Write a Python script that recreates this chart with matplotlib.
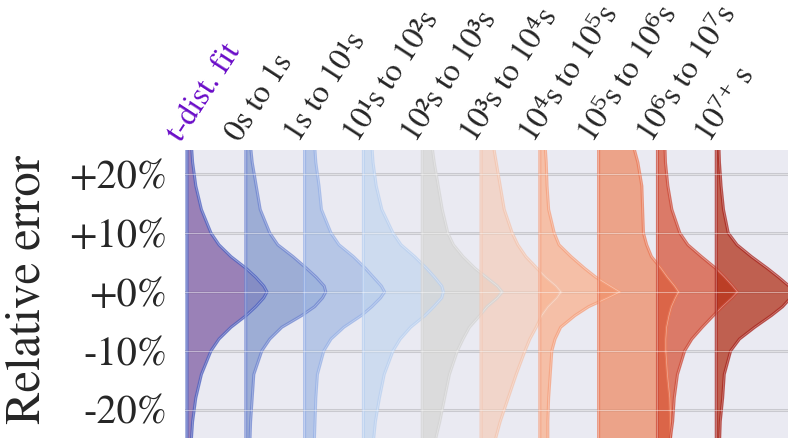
import numpy as np
import matplotlib.pyplot as plt

plt.rcParams['font.family'] = ['STIXGeneral', 'DejaVu Serif']
plt.rcParams['text.color'] = '#262626'
plt.rcParams['xtick.color'] = '#262626'
plt.rcParams['ytick.color'] = '#262626'

# Categories along the top axis (first one is the fitted reference)
labels = ['t-dist. fit', '0s to 1s', '1s to 10¹s', '10¹s to 10²s',
          '10²s to 10³s', '10³s to 10⁴s', '10⁴s to 10⁵s',
          '10⁵s to 10⁶s', '10⁶s to 10⁷s', '10⁷⁺ s']

# Relative error levels (%) where the density widths were taken
err_levels = [26, 22, 18, 14, 10, 8, 6, 4, 2.5, 1, 0,
              -1, -2.5, -4, -6, -8, -10, -14, -18, -22, -26]

# Half-violin widths, as a fraction of each violin's peak
w_tdist = [.05, .07, .11, .18, .30, .40, .55, .74, .86, .96, 1,
           .96, .86, .74, .55, .40, .30, .18, .11, .07, .05]
w_0_1 = [.05, .08, .13, .18, .30, .40, .59, .76, .88, .98, 1,
         .96, .86, .70, .45, .30, .20, .10, .08, .06, .05]
w_1_e1 = [.12, .14, .18, .21, .33, .43, .61, .76, .86, .96, 1,
          .95, .84, .71, .49, .33, .24, .16, .14, .13, .12]
w_e1_e2 = [.10, .12, .16, .23, .37, .47, .64, .79, .89, .98, 1,
           .98, .88, .77, .59, .46, .37, .26, .20, .15, .12]
w_e2_e3 = [.11, .15, .20, .25, .32, .39, .51, .66, .80, .94, 1,
           .94, .81, .72, .59, .51, .44, .34, .28, .22, .15]
w_e3_e4 = [.14, .19, .24, .29, .39, .46, .56, .70, .81, .94, 1,
           .95, .84, .76, .69, .61, .55, .44, .34, .24, .16]
w_e4_e5 = [.06, .08, .09, .11, .18, .24, .39, .56, .70, .88, 1,
           .85, .61, .44, .26, .19, .15, .13, .11, .10, .10]
w_e5_e6 = [.41, .49, .54, .55, .56, .60, .66, .78, .86, .95, 1,
           .96, .91, .88, .85, .84, .84, .86, .89, .90, .90]
w_e6_e7 = [.09, .10, .13, .18, .28, .38, .55, .73, .84, .94, 1,
           .93, .81, .70, .56, .43, .34, .25, .21, .19, .15]
w_e7 = [.03, .04, .06, .09, .15, .26, .44, .64, .78, .91, 1,
        .93, .83, .69, .48, .29, .18, .10, .08, .05, .04]

violin_widths = [w_tdist, w_0_1, w_1_e1, w_e1_e2, w_e2_e3,
                 w_e3_e4, w_e4_e5, w_e5_e6, w_e6_e7, w_e7]

yticks = [-20, -10, 0, 10, 20]
ytick_labels = ['-20%', '-10%', '+0%', '+10%', '+20%']

# muted purple for the fit, then a soft cool-to-warm ramp for the duration bins
fills = ['#79559f', '#7d93ca', '#a0b7e1', '#c1d5ee', '#d6d6d3',
         '#f5cdba', '#faae88', '#ee865d', '#d54b2d', '#ae250b']
edges = ['#4a5fc0', '#6d84d0', '#97b1e6', '#b9d0f0', '#d4d4d4',
         '#f3c4ae', '#f59f7c', '#ea7a58', '#cc4a38', '#a8231c']

fig = plt.figure(figsize=(7.88, 4.38), dpi=100)
ax = fig.add_axes([185 / 788, 0, 603 / 788, 288 / 438])
ax.set_facecolor('#eaeaf2')
for s in ax.spines.values():
    s.set_visible(False)

for t in yticks:
    ax.axhline(t, color='#c8c8ce', lw=2.2, zorder=1)

half_width = 1.36
y = np.array(err_levels, dtype=float)
for i, w in enumerate(violin_widths):
    x = i + half_width * np.array(w)
    ax.fill_betweenx(y, i, x, color=fills[i], alpha=0.7, lw=0, zorder=2)
    px = np.r_[i, x, i, i]
    py = np.r_[y[0], y, y[-1], y[0]]
    ax.plot(px, py, color=edges[i], lw=2.2, alpha=0.75, zorder=3,
            solid_joinstyle='round')
    ax.plot(px, py, color='white', lw=0.5, alpha=0.4, zorder=3,
            solid_joinstyle='round')

# light grid drawn over the violins
for t in yticks:
    ax.axhline(t, color='white', lw=0.8, alpha=0.45, zorder=4)

ax.set_xlim(-0.034, 10.22)
ax.set_ylim(-24.8, 24.1)

ax.set_yticks(yticks)
ax.set_yticklabels(ytick_labels)
ax.tick_params(axis='y', length=0, labelsize=29, pad=13)

ax.xaxis.tick_top()
ax.set_xticks(range(len(labels)))
ax.set_xticklabels(labels, rotation=57, ha='left', va='bottom',
                   rotation_mode='anchor')
ax.tick_params(axis='x', length=0, labelsize=23, pad=2)
ax.get_xticklabels()[0].set_color('#6a0dc8')

fig.text(28 / 788, 1 - 290 / 438, 'Relative error', rotation=90,
         ha='center', va='center', fontsize=35)

fig.savefig('out.png', dpi=100)
